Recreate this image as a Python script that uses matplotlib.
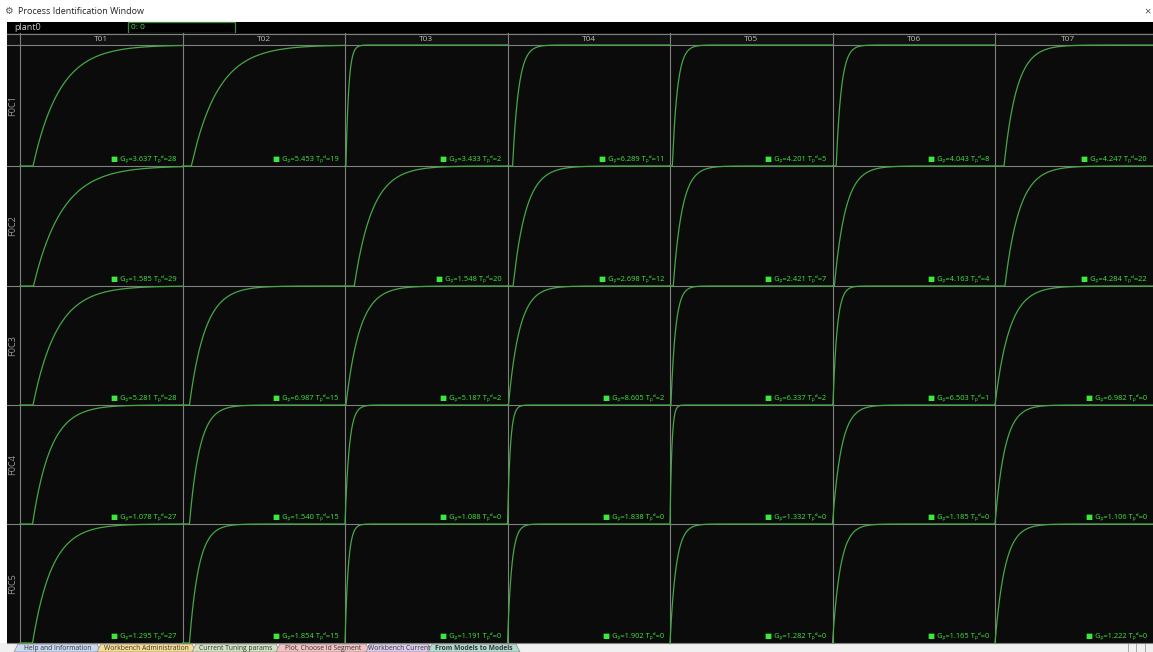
import numpy as np
import matplotlib
matplotlib.use("Agg")
import matplotlib.pyplot as plt
from matplotlib.patches import Rectangle, Polygon

plt.rcParams['font.family'] = ['Open Sans', 'DejaVu Sans']

# Model matrix: inputs (columns) and outputs (rows)
inputs = ["T01", "T02", "T03", "T04", "T05", "T06", "T07"]
outputs = ["F0C1", "F0C2", "F0C3", "F0C4", "F0C5"]

# Process gains (None = no model for that pair)
gains = [
    [3.637, 5.453, 3.433, 6.289, 4.201, 4.043, 4.247],
    [1.585, None, 1.548, 2.698, 2.421, 4.163, 4.284],
    [5.281, 6.987, 5.187, 8.605, 6.337, 6.503, 6.982],
    [1.078, 1.540, 1.088, 1.838, 1.332, 1.185, 1.106],
    [1.295, 1.854, 1.191, 1.902, 1.282, 1.165, 1.222],
]
# Dead times (samples)
dead_times = [
    [28, 19, 2, 11, 5, 8, 20],
    [29, None, 20, 12, 7, 4, 22],
    [28, 15, 2, 2, 2, 1, 0],
    [27, 15, 0, 0, 0, 0, 0],
    [27, 15, 0, 0, 0, 0, 0],
]
# First-order time constants (samples)
time_constants = [
    [58, 58, 6, 13, 11, 11, 28],
    [62, None, 39, 28, 19, 24, 32],
    [52, 34, 30, 24, 10, 9, 32],
    [39, 22, 9, 6, 4, 19, 22],
    [42, 20, 7, 9, 13, 17, 22],
]
horizon = 350

W, H = 1153, 652
fig = plt.figure(figsize=(W / 100, H / 100), dpi=100)
fig.patch.set_facecolor("white")

# Background canvas in pixel coordinates (y downwards)
bg = fig.add_axes([0, 0, 1, 1], zorder=0)
bg.set_xlim(0, W)
bg.set_ylim(H, 0)
bg.axis("off")

col_edges = [20, 182.5, 345, 507.5, 670, 832.5, 995, 1153]
row_edges = [45, 166, 286, 405, 524, 643]
grid_col = "#808080"

# Title bar
bg.text(8, 12, "\u2699", fontsize=7, color="#555555", va="center", ha="center")
bg.text(18, 12, "Process Identification Window", fontsize=6.5, color="#222222", va="center")
bg.text(1147, 12, "\u00d7", fontsize=8, color="#444444", va="center", ha="center")

# Plant bar
bg.add_patch(Rectangle((7, 22), W - 7, 11, facecolor="black", edgecolor="none"))
bg.text(14, 27.5, "plant0", fontsize=6.5, color="#cccccc", va="center")
bg.add_patch(Rectangle((128, 22), 107, 11, facecolor="black", edgecolor="#3a8a3a", lw=0.9))
bg.text(131, 27.5, "0: 0", fontsize=6, color="#44dd44", va="center")

# Header row
bg.add_patch(Rectangle((7, 33), W - 7, 12, facecolor="#111111", edgecolor="none"))
# Grid body
bg.add_patch(Rectangle((7, 45), W - 7, 598, facecolor="#0b0b0b", edgecolor="none"))
bg.plot([7, W], [33.5, 33.5], color=grid_col, lw=0.8)
for y in row_edges:
    bg.plot([7, W], [y, y], color=grid_col, lw=0.8)
for x in col_edges[:-1]:
    bg.plot([x, x], [33, 643], color=grid_col, lw=0.8)

for j, name in enumerate(inputs):
    cx = (col_edges[j] + min(col_edges[j + 1], 1141)) / 2
    bg.text(cx, 39.5, name, fontsize=6, color="#bbbbbb", ha="center", va="center")
for i, name in enumerate(outputs):
    cy = (row_edges[i] + row_edges[i + 1]) / 2
    bg.text(12.5, cy, name, fontsize=6.6, color="#999999", ha="center", va="center", rotation=90)

# Tab strip
bg.add_patch(Rectangle((0, 643), W, 9, facecolor="#f0f0f0", edgecolor="none"))
tabs = [
    ("Help and Information", 14, 97, "#c9d9f1", "normal"),
    ("Workbench Administration", 97, 192, "#f8dc92", "normal"),
    ("Current Tuning params", 192, 276, "#d2e2c2", "normal"),
    ("Plot, Choose Id Segment", 276, 366, "#f3c2c2", "normal"),
    ("Workbench Current", 366, 428, "#dccbec", "normal"),
    ("From Models to Models", 428, 516, "#b2dcd2", "bold"),
]
for label, x0, x1, color, weight in tabs:
    bg.add_patch(Polygon([(x0, 652), (x0 + 4, 644), (x1, 644), (x1 + 4, 652)],
                         closed=True, facecolor=color, edgecolor="#8a8a8a", lw=0.5))
    bg.text((x0 + x1) / 2 + 2, 648, label, fontsize=4.9, color="#333333",
            ha="center", va="center", fontweight=weight)
for x in [1128, 1136, 1145]:
    bg.plot([x, x], [644, 652], color="#999999", lw=0.6)

# Step-response cells
t = np.linspace(0, horizon, 1200)
for i in range(len(outputs)):
    for j in range(len(inputs)):
        g = gains[i][j]
        if g is None:
            continue
        td = dead_times[i][j]
        tau = time_constants[i][j]
        x0, x1 = col_edges[j], col_edges[j + 1]
        y0, y1 = row_edges[i], row_edges[i + 1]
        ax = fig.add_axes([x0 / W, 1 - y1 / H, (x1 - x0) / W, (y1 - y0) / H], zorder=2)
        ax.patch.set_alpha(0)
        ax.set_xlim(0, horizon)
        ax.set_ylim(0, g)
        ax.axis("off")
        y = np.where(t < td, 0.0, g * (1 - np.exp(-(t - td) / tau)))
        ax.plot(t, y, color="#45a845", lw=0.9, clip_on=False)
        label = f"\u25a0 G\u209a={g:.3f} T\u209a\u1d48={td}"
        ax.annotate(label, xy=(1, 0), xycoords="axes fraction", xytext=(-6, 3),
                    textcoords="offset pixels", ha="right", va="bottom",
                    fontsize=5.4, color="#3de83d")

fig.savefig("out.png", dpi=100, facecolor="white")
